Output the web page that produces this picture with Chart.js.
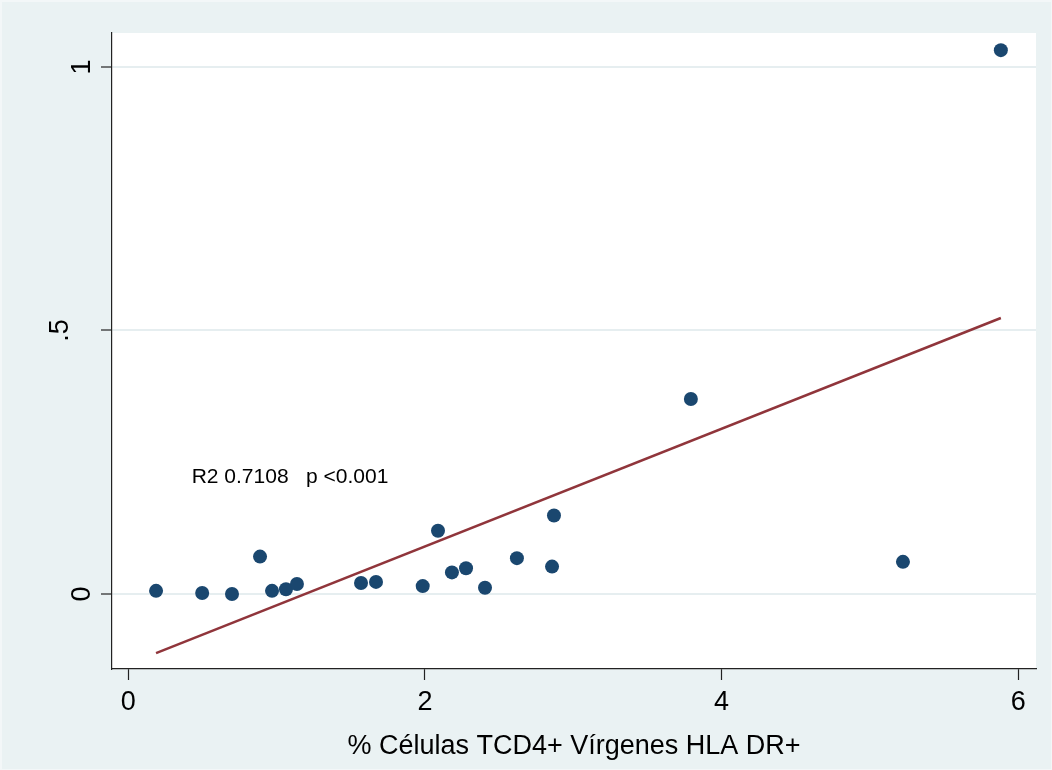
<!DOCTYPE html>
<html>
<head>
<meta charset="utf-8">
<script src="https://cdn.jsdelivr.net/npm/chart.js@4.4.1/dist/chart.umd.min.js"></script>
<style>
  html, body { margin: 0; padding: 0; background: #EAF2F3; }
  #wrap { width: 1052px; height: 770px; }
</style>
</head>
<body>
<div id="wrap"><canvas id="c" width="1052" height="770"></canvas></div>
<script>
// % naive CD4+ T cells that are HLA-DR+ (x) against the outcome (y)
const xValues = [0.187, 0.498, 0.699, 0.888, 0.969, 1.063, 1.137, 1.569, 1.670, 1.985,
                 2.088, 2.182, 2.277, 2.405, 2.620, 2.857, 2.870, 3.793, 5.223, 5.883];
const yValues = [0.006, 0.002, 0.000, 0.071, 0.006, 0.009, 0.019, 0.021, 0.023, 0.015,
                 0.120, 0.041, 0.049, 0.012, 0.068, 0.052, 0.149, 0.370, 0.061, 1.032];

const xTickValues = [0, 2, 4, 6];
const yTickValues = [0, 0.5, 1];
const yTickLabels = ['0', '.5', '1'];

const xTitle = '% Células TCD4+ Vírgenes HLA DR+';
const fitNote = 'R2 0.7108   p <0.001';
const notePos = { x: 0.427, y: 0.222 };

// ordinary least squares fit over the observed points
function linearFit(xs, ys) {
  const n = xs.length;
  const mx = xs.reduce((a, b) => a + b, 0) / n;
  const my = ys.reduce((a, b) => a + b, 0) / n;
  let sxy = 0, sxx = 0;
  for (let i = 0; i < n; i++) {
    sxy += (xs[i] - mx) * (ys[i] - my);
    sxx += (xs[i] - mx) * (xs[i] - mx);
  }
  const b = sxy / sxx;
  return { a: my - b * mx, b };
}
const fit = linearFit(xValues, yValues);
const xLo = Math.min(...xValues), xHi = Math.max(...xValues);
const fitLine = [
  { x: xLo, y: fit.a + fit.b * xLo },
  { x: xHi, y: fit.a + fit.b * xHi }
];
const points = xValues.map((x, i) => ({ x, y: yValues[i] }));

const FONT = '"Liberation Sans", Arial, sans-serif';
const BG = '#EAF2F3';

const decor = {
  id: 'decor',
  beforeDraw(chart) {
    const { ctx, chartArea: a, width, height } = chart;
    ctx.save();
    ctx.fillStyle = '#F3F7F8';
    ctx.fillRect(0, 0, width, height);
    ctx.fillStyle = BG;
    ctx.fillRect(2, 2, width - 3, height - 3);
    ctx.fillStyle = '#FFFFFF';
    ctx.fillRect(a.left, a.top, a.right - a.left, a.bottom - a.top);
    ctx.restore();
  },
  afterDraw(chart) {
    const { ctx, chartArea: a } = chart;
    const xs = chart.scales.x, ys = chart.scales.y;
    ctx.save();
    ctx.fillStyle = '#000';
    // rotated y tick labels
    ctx.font = '27px ' + FONT;
    ctx.textAlign = 'center';
    ctx.textBaseline = 'alphabetic';
    const shift = { '.5': -22 };
    yTickValues.forEach((v, i) => {
      const lbl = yTickLabels[i];
      const py = ys.getPixelForValue(v);
      ctx.save();
      ctx.translate(90 + (shift[lbl] || 0), py);
      ctx.rotate(-Math.PI / 2);
      ctx.fillText(lbl, 0, 0);
      ctx.restore();
    });
    // x axis title
    ctx.font = '27px ' + FONT;
    ctx.textAlign = 'center';
    ctx.fillText(xTitle, (a.left + a.right) / 2, 754);
    // fit statistics note
    ctx.font = '21px ' + FONT;
    ctx.textAlign = 'left';
    ctx.textBaseline = 'middle';
    ctx.fillText(fitNote, xs.getPixelForValue(notePos.x), ys.getPixelForValue(notePos.y));
    ctx.restore();
  }
};

new Chart(document.getElementById('c'), {
  type: 'scatter',
  data: {
    datasets: [
      {
        type: 'line',
        data: fitLine,
        borderColor: '#90353B',
        borderWidth: 2.5,
        pointRadius: 0,
        fill: false,
        tension: 0
      },
      {
        data: points,
        backgroundColor: '#1A476F',
        borderWidth: 0,
        pointRadius: 7
      }
    ]
  },
  options: {
    responsive: false,
    animation: false,
    events: [],
    layout: { padding: { left: 0, top: 33, right: 16, bottom: 0 } },
    plugins: { legend: { display: false }, tooltip: { enabled: false } },
    scales: {
      x: {
        type: 'linear',
        min: -0.11,
        max: 6.12,
        afterBuildTicks: s => { s.ticks = xTickValues.map(v => ({ value: v })); },
        afterFit: s => { s.height = 101; },
        grid: { drawOnChartArea: false, drawTicks: true, tickLength: 11, tickColor: '#222', tickWidth: 1.2 },
        border: { color: '#222', width: 1.2 },
        ticks: { color: '#000', font: { family: FONT, size: 27 }, padding: 6, maxRotation: 0 }
      },
      y: {
        type: 'linear',
        min: -0.1423,
        max: 1.0645,
        afterBuildTicks: s => { s.ticks = yTickValues.map(v => ({ value: v })); },
        afterFit: s => { s.width = 112; },
        grid: { color: '#E6EEF0', lineWidth: 2, drawTicks: true, tickLength: 11, tickColor: '#222', tickWidth: 1.2 },
        border: { color: '#222', width: 1.2 },
        ticks: { display: false }
      }
    }
  },
  plugins: [decor]
});
</script>
</body>
</html>
